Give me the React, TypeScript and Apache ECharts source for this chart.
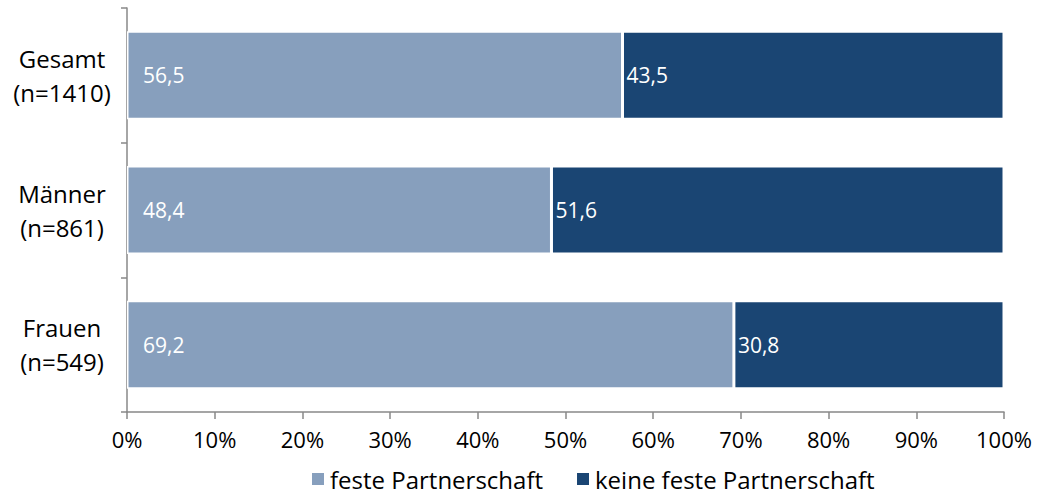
import React, { useEffect, useRef } from "react";
import * as echarts from "echarts";

const categories = ["Gesamt\n(n=1410)", "Männer\n(n=861)", "Frauen\n(n=549)"];
const festeValues = [56.5, 48.4, 69.2];
const keineValues = [43.5, 51.6, 30.8];
const seriesNames = ["feste Partnerschaft", "keine feste Partnerschaft"];
const xTicks = [0, 10, 20, 30, 40, 50, 60, 70, 80, 90, 100];

const FONT = "'Open Sans', 'Noto Sans', sans-serif";

export default function App() {
  const ref = useRef<HTMLDivElement>(null);
  useEffect(() => {
    const chart = echarts.init(ref.current!, null, { renderer: "svg" });
    const fmt = (p: any) => String(p.value).replace(".", ",");
    chart.setOption({
      animation: false,
      textStyle: { fontFamily: FONT },
      grid: { left: 127, right: 37, top: 8, bottom: 85, containLabel: false },
      legend: {
        bottom: 1,
        left: 305,
        itemWidth: 14,
        itemHeight: 14,
        itemGap: 32,
        icon: "rect",
        textStyle: { fontSize: 24, color: "#000", fontFamily: FONT },
        data: seriesNames,
      },
      xAxis: {
        type: "value",
        min: 0,
        max: 100,
        interval: 10,
        axisLine: { show: true, lineStyle: { color: "#888", width: 1.5 } },
        axisTick: { show: true, length: 7, lineStyle: { color: "#888", width: 1.5 } },
        splitLine: { show: false },
        axisLabel: {
          fontSize: 22,
          color: "#000",
          margin: 16,
          fontFamily: FONT,
          formatter: (v: number) => (xTicks.includes(v) ? v + "%" : ""),
        },
      },
      yAxis: {
        type: "category",
        inverse: true,
        data: categories,
        axisLine: { show: true, lineStyle: { color: "#888", width: 1.5 } },
        axisTick: { show: true, length: 6, alignWithLabel: false, lineStyle: { color: "#888", width: 1.5 } },
        axisLabel: {
          fontSize: 24,
          color: "#000",
          margin: 65,
          lineHeight: 34,
          align: "center",
          fontFamily: FONT,
        },
      },
      series: [
        {
          name: seriesNames[0],
          type: "bar",
          stack: "total",
          barWidth: 88,
          data: festeValues,
          itemStyle: { color: "#879FBD", borderColor: "#fff", borderWidth: 1.5 },
          label: {
            show: true,
            position: "insideLeft",
            distance: 16,
            color: "#fff",
            fontSize: 21,
            fontFamily: FONT,
            formatter: fmt,
          },
        },
        {
          name: seriesNames[1],
          type: "bar",
          stack: "total",
          barWidth: 88,
          data: keineValues,
          itemStyle: { color: "#1A4573", borderColor: "#fff", borderWidth: 1.5 },
          label: {
            show: true,
            position: "insideLeft",
            distance: 4,
            color: "#fff",
            fontSize: 21,
            fontFamily: FONT,
            formatter: fmt,
          },
        },
      ],
    });
    return () => chart.dispose();
  }, []);
  return (
    <div
      ref={ref}
      style={{ position: "absolute", left: 0, top: 0, width: 1041, height: 497 }}
    />
  );
}
